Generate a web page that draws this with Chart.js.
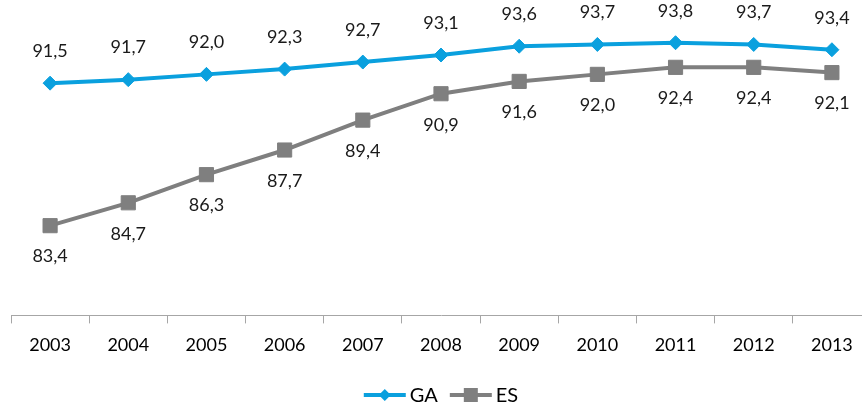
<!DOCTYPE html>
<html>
<head>
<meta charset="utf-8">
<script src="https://cdn.jsdelivr.net/npm/chart.js@4/dist/chart.umd.min.js"></script>
<style>
  html, body { margin: 0; padding: 0; background: #fff; overflow: hidden; }
  #wrap { width: 880px; height: 408px; }
</style>
</head>
<body>
<div id="wrap"><canvas id="c" width="880" height="408"></canvas></div>
<script>
const years = ['2003','2004','2005','2006','2007','2008','2009','2010','2011','2012','2013'];
const gaValues = [91.5, 91.7, 92.0, 92.3, 92.7, 93.1, 93.6, 93.7, 93.8, 93.7, 93.4];
const esValues = [83.4, 84.7, 86.3, 87.7, 89.4, 90.9, 91.6, 92.0, 92.4, 92.4, 92.1];
const seriesNames = ['GA', 'ES'];

const BLUE = '#0AA0DE';
const GRAY = '#7F7F7F';
const FONT = 'Lato, "Open Sans", sans-serif';

const valueLabels = {
  id: 'valueLabels',
  afterDatasetsDraw(chart) {
    const ctx = chart.ctx;
    ctx.save();
    ctx.font = '18px ' + FONT;
    ctx.fillStyle = '#1a1a1a';
    ctx.textAlign = 'center';
    ctx.textBaseline = 'middle';
    chart.data.datasets.forEach((ds, di) => {
      const meta = chart.getDatasetMeta(di);
      const dy = di === 0 ? -32 : 31;
      meta.data.forEach((pt, i) => {
        ctx.fillText(ds.data[i].toFixed(1).replace('.', ','), pt.x, pt.y + dy);
      });
    });
    ctx.restore();
  }
};

const lineLegend = {
  id: 'lineLegend',
  afterDraw(chart) {
    const ctx = chart.ctx;
    const ca = chart.chartArea;
    const iconW = 42, gapText = 4, gapItem = 12, cy = 395;
    ctx.save();
    ctx.font = '20px ' + FONT;
    const items = chart.data.datasets.map((ds, i) => ({
      ds, i, tw: ctx.measureText(ds.label).width
    }));
    const total = items.reduce((s, it) => s + iconW + gapText + it.tw, 0) + gapItem * (items.length - 1);
    let x = (ca.left + ca.right) / 2 - total / 2;
    items.forEach(it => {
      const c = it.ds.borderColor;
      ctx.strokeStyle = c; ctx.lineWidth = 4;
      ctx.beginPath(); ctx.moveTo(x, cy); ctx.lineTo(x + iconW, cy); ctx.stroke();
      ctx.fillStyle = c;
      const mx = x + iconW / 2;
      if (it.i === 0) {
        ctx.beginPath(); ctx.moveTo(mx, cy - 6); ctx.lineTo(mx + 6, cy); ctx.lineTo(mx, cy + 6); ctx.lineTo(mx - 6, cy); ctx.closePath(); ctx.fill();
      } else {
        ctx.fillRect(mx - 7, cy - 7, 14, 14);
      }
      x += iconW + gapText;
      ctx.fillStyle = '#000';
      ctx.textAlign = 'left';
      ctx.textBaseline = 'middle';
      ctx.fillText(it.ds.label, x, cy + 1);
      x += it.tw + gapItem;
    });
    ctx.restore();
  }
};

new Chart(document.getElementById('c'), {
  type: 'line',
  data: {
    labels: years,
    datasets: [
      {
        label: seriesNames[0], data: gaValues,
        borderColor: BLUE, backgroundColor: BLUE, borderWidth: 4,
        pointStyle: 'rectRot', pointRadius: 7, pointHoverRadius: 7,
        pointBackgroundColor: BLUE, pointBorderColor: BLUE, pointBorderWidth: 1,
        tension: 0
      },
      {
        label: seriesNames[1], data: esValues,
        borderColor: GRAY, backgroundColor: GRAY, borderWidth: 4,
        pointStyle: 'rect', pointRadius: 10, pointHoverRadius: 10,
        pointBackgroundColor: GRAY, pointBorderColor: GRAY, pointBorderWidth: 1,
        tension: 0
      }
    ]
  },
  options: {
    responsive: false,
    animation: false,
    layout: { autoPadding: false, padding: { left: 11, right: 9, top: 4, bottom: 41 } },
    scales: {
      x: {
        offset: true,
        grid: { display: true, drawOnChartArea: false, drawTicks: true, tickLength: 8, color: '#A6A6A6', offset: true },
        border: { display: true, color: '#A6A6A6', width: 1 },
        ticks: { color: '#000', font: { family: FONT, size: 18 }, padding: 11, maxRotation: 0 }
      },
      y: {
        display: false,
        min: 78.3, max: 96
      }
    },
    plugins: {
      tooltip: { enabled: false },
      legend: { display: false }
    }
  },
  plugins: [valueLabels, lineLegend]
});
</script>
</body>
</html>
